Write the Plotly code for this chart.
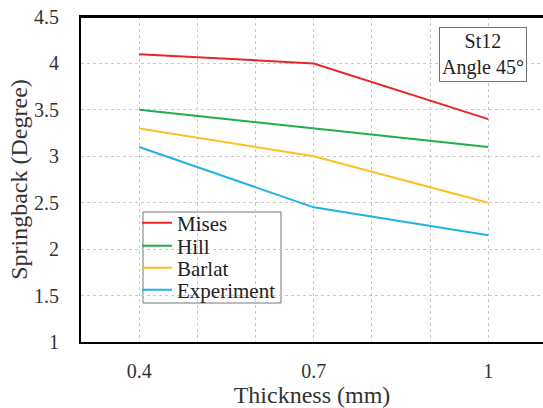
import plotly.graph_objects as go

thickness = [0.4, 0.7, 1.0]
mises = [4.1, 4.0, 3.4]
hill = [3.5, 3.3, 3.1]
barlat = [3.3, 3.0, 2.5]
experiment = [3.1, 2.45, 2.15]

series = [
    ("Mises", mises, "#e8262a"),
    ("Hill", hill, "#1fae4e"),
    ("Barlat", barlat, "#fcc020"),
    ("Experiment", experiment, "#1fb3e6"),
]

FONT = "Liberation Serif"

# plot area geometry (pixels)
L, T, B, W, H = 81, 17, 66, 543, 408
PW, PH = W - L, H - T - B

def py(ypx):
    return (H - B - ypx) / PH

def px(xpx):
    return (xpx - L) / PW

fig = go.Figure()
legend_rows = [223, 246, 268, 290]
legend_names = ["legend", "legend2", "legend3", "legend4"]
for (name, vals, col), lg in zip(series, legend_names):
    fig.add_trace(go.Scatter(x=thickness, y=vals, name=name, mode="lines",
                             line=dict(color=col, width=2), legend=lg))

grid = dict(showgrid=True, gridcolor="#c8c8c8", griddash="dot", gridwidth=1)

layout_legends = {}
for lg, row in zip(legend_names, legend_rows):
    layout_legends[lg] = dict(x=px(137), y=py(row), xanchor="left", yanchor="middle",
                              bgcolor="rgba(0,0,0,0)", borderwidth=0,
                              font=dict(family=FONT, size=21, color="#222"),
                              itemwidth=30)

fig.update_layout(
    width=W, height=H,
    margin=dict(l=L, r=0, t=T, b=B),
    paper_bgcolor="white", plot_bgcolor="white",
    font=dict(family=FONT, size=20, color="#333"),
    xaxis=dict(range=[0.3, 1.094], tickvals=[0.4, 0.7, 1.0],
               ticktext=["0.4", "0.7", "1"], ticks="", ticklabelstandoff=10,
               showline=True, linecolor="black", linewidth=2, mirror=True,
               zeroline=False, minor=dict(dtick=0.1, tick0=0.3, **grid),
               title=dict(text="Thickness (mm)", standoff=7), **grid),
    yaxis=dict(range=[1, 4.5], ticks="", ticklabelstandoff=16,
               tickvals=[1, 1.5, 2, 2.5, 3, 3.5, 4, 4.5],
               ticktext=["1", "1.5", "2", "2.5", "3", "3.5", "4", "4.5"],
               showline=True, linecolor="black", linewidth=2, mirror=False,
               zeroline=False,
               title=dict(text="Springback (Degree)", standoff=0), **grid),
    showlegend=True,
    **layout_legends,
)

# legend frame
fig.add_shape(type="rect", xref="paper", yref="paper",
              x0=px(143), x1=px(281), y0=py(303), y1=py(212),
              line=dict(color="#777", width=1), fillcolor="white", layer="below")
# top frame line
fig.add_shape(type="line", xref="paper", yref="paper", x0=0, x1=1, y0=1, y1=1,
              line=dict(color="black", width=2))

fig.add_annotation(xref="paper", yref="paper", x=px(483), y=py(54.5),
                   xanchor="center", yanchor="middle",
                   text="St12<br>Angle 45°", showarrow=False,
                   font=dict(family=FONT, size=20, color="#222"),
                   bordercolor="#777", borderwidth=1, borderpad=2,
                   bgcolor="white", align="center")

fig.write_html("out.html")
